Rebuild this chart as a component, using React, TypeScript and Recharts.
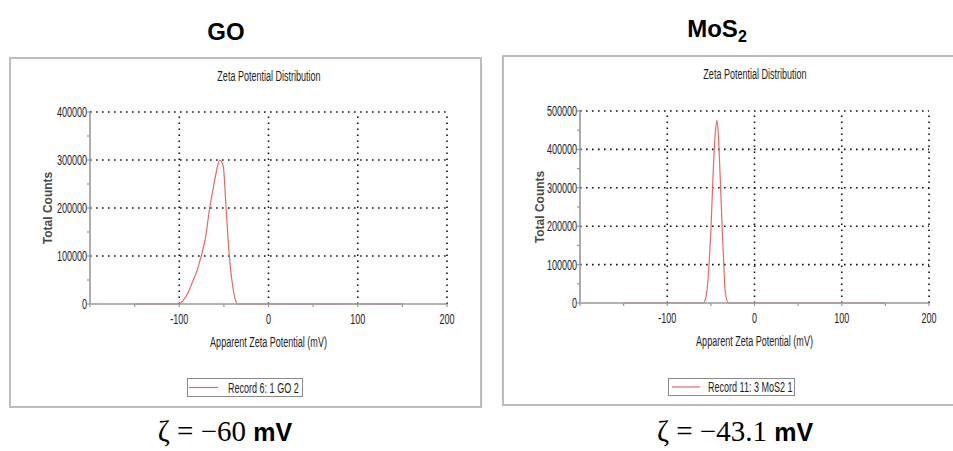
import React from 'react'
import { LineChart, Line, XAxis, YAxis, ReferenceLine, Legend } from 'recharts'

// shared x axis
const xTicks = [-200, -150, -100, -50, 0, 50, 100, 150, 200]
const xLabeled = [-100, 0, 100, 200]
const xGrid = [-100, 0, 100, 200]

// GO record
const goX = [-150, -100, -95, -90, -85, -80, -75.6, -70, -66, -62, -58.8, -56.5, -54.3, -52.5, -50.6, -47.5, -43.8, -40, -37, -34.5, -30, 0, 50, 100, 150]
const goCounts = [0, 0, 9000, 24000, 46500, 70000, 98500, 145000, 199000, 240000, 272000, 292000, 300000, 296000, 286000, 199000, 98500, 36000, 8000, 0, 0, 0, 0, 0, 0]
const goYTicks = [0, 50000, 100000, 150000, 200000, 250000, 300000, 350000, 400000]
const goYGrid = [100000, 200000, 300000, 400000]

// MoS2 record
const mosX = [-150, -100, -58.6, -56, -54, -52, -50.1, -47.1, -45, -43.2, -41.5, -39.8, -36.8, -35, -33.7, -29.9, 0, 50, 100, 150]
const mosCounts = [0, 0, 0, 12000, 43000, 105000, 182000, 355000, 440000, 476000, 440000, 355000, 182000, 90000, 33000, 0, 0, 0, 0, 0]
const mosYTicks = [0, 50000, 100000, 150000, 200000, 250000, 300000, 350000, 400000, 450000, 500000]
const mosYGrid = [100000, 200000, 300000, 400000, 500000]

const axisGray = '#999999'
const textCol = '#1e1e1e'
const lineRed = '#e86868'
const font = '"Liberation Sans", Arial, sans-serif'
// the instrument screenshot is squeezed horizontally
const SQ = 0.645

const SqText = ({ x, y, anchor = 'start', dy = 5, size = 14, children }: any) => (
  <text transform={`translate(${x} ${y}) scale(${SQ} 1)`} x={0} y={0} dy={dy} textAnchor={anchor}
    fontSize={size} fontFamily={font} fill={textCol}>{children}</text>
)

const YTick = ({ x, y, payload }: any) => {
  const v = payload.value
  if (v % 100000 !== 0) return <g />
  return <SqText x={x} y={y} anchor="end">{String(v)}</SqText>
}

const XTick = ({ x, y, payload }: any) => {
  const v = payload.value
  if (!xLabeled.includes(v)) return <g />
  return <SqText x={x} y={y} anchor="middle" dy={15.5}>{String(v)}</SqText>
}

interface PanelProps {
  xs: number[]
  counts: number[]
  yTicks: number[]
  yGrid: number[]
  name: string
  left: number
  top: number
  width: number
  height: number
  yAxisWidth: number
  marginTop: number
  marginRight: number
  yLabelX: number
  legend: { left: number; top: number; w: number; h: number; l1: number; l2: number; tx: number }
}

function Panel(p: PanelProps) {
  const data = p.xs.map((x, i) => ({ x, count: p.counts[i] }))
  const xAxisHeight = p.height - p.marginTop - 192
  const plotW = p.width - p.yAxisWidth - p.marginRight
  const lg = p.legend
  return (
    <>
      <div style={{ position: 'absolute', left: p.left, top: p.top, width: p.width, height: p.height, border: '2px solid #bcbcbc', boxSizing: 'border-box' }} />
      <svg style={{ position: 'absolute', left: p.left + p.yAxisWidth + plotW / 2 - 100, top: p.top + 10 }} width={200} height={20}>
        <SqText x={100} y={9} anchor="middle">Zeta Potential Distribution</SqText>
      </svg>
      <div style={{ position: 'absolute', left: p.left, top: p.top, fontFamily: font }}>
        <LineChart width={p.width} height={p.height} data={data}
          margin={{ top: p.marginTop, right: p.marginRight, left: 0, bottom: 0 }}>
          {xGrid.map((v) => (
            <ReferenceLine key={'x' + v} x={v} stroke="#111" strokeWidth={1.6} strokeDasharray="1.6 4.4" />
          ))}
          {p.yGrid.map((v) => (
            <ReferenceLine key={'y' + v} y={v} stroke="#111" strokeWidth={1.6} strokeDasharray="1.6 4.4" />
          ))}
          <XAxis dataKey="x" type="number" domain={[-200, 200]} ticks={xTicks} interval={0}
            height={xAxisHeight} axisLine={{ stroke: axisGray, strokeWidth: 1.6 }}
            tickLine={{ stroke: axisGray, strokeWidth: 1.2 }} tickSize={3} tickMargin={2} tick={<XTick />}
            label={{
              content: ({ viewBox }: any) => (
                <SqText x={viewBox.x + viewBox.width / 2} y={viewBox.y + 37.5} anchor="middle">
                  Apparent Zeta Potential (mV)
                </SqText>
              ),
            }} />
          <YAxis type="number" domain={[0, p.yTicks[p.yTicks.length - 1]]} ticks={p.yTicks} interval={0}
            width={p.yAxisWidth} axisLine={{ stroke: axisGray, strokeWidth: 1.6 }}
            tickLine={{ stroke: axisGray, strokeWidth: 1.2 }} tickSize={3} tickMargin={0} tick={<YTick />}
            label={{
              content: ({ viewBox }: any) => {
                const cx = viewBox.x + p.yLabelX
                const cy = viewBox.y + viewBox.height / 2
                return (
                  <text transform={`translate(${cx} ${cy}) rotate(-90)`} x={0} y={0} dy={4.5}
                    textAnchor="middle" fontSize={12} fontWeight="bold" fontFamily={font} fill="#4a4a4a">Total Counts</text>
                )
              },
            }} />
          <Line type="monotone" dataKey="count" name={p.name} stroke={lineRed} strokeWidth={1.2}
            dot={false} isAnimationActive={false} />
          <Legend layout="horizontal" verticalAlign="middle" align="center"
            wrapperStyle={{ left: lg.left, top: lg.top, width: lg.w, height: lg.h }}
            content={() => (
              <svg width={lg.w} height={lg.h}>
                <rect x={0.5} y={0.5} width={lg.w - 1} height={lg.h - 1} fill="#fff" stroke="#8a8a8a" />
                <line x1={lg.l1} x2={lg.l2} y1={lg.h / 2} y2={lg.h / 2} stroke={lineRed} strokeWidth={1.2} />
                <SqText x={lg.tx} y={lg.h / 2}>{p.name}</SqText>
              </svg>
            )} />
        </LineChart>
      </div>
    </>
  )
}

export default function App() {
  return (
    <div style={{ position: 'absolute', left: 0, top: 0, width: 953, height: 451, overflow: 'hidden', background: '#fff' }}>
      <div style={{ position: 'absolute', left: 126, width: 200, top: 19.5, textAlign: 'center', fontFamily: font, fontWeight: 'bold', fontSize: 24, lineHeight: '24px' }}>
        GO
      </div>
      <div style={{ position: 'absolute', left: 617, width: 200, top: 16.5, textAlign: 'center', fontFamily: font, fontWeight: 'bold', fontSize: 24, lineHeight: '24px' }}>
        MoS<span style={{ fontSize: 16, position: 'relative', top: 5 }}>2</span>
      </div>

      <Panel xs={goX} counts={goCounts} yTicks={goYTicks} yGrid={goYGrid} name="Record 6: 1 GO 2"
        left={9} top={57} width={473} height={351} yAxisWidth={81} marginTop={55} marginRight={35}
        yLabelX={38.5}
        legend={{ left: 178, top: 321, w: 116, h: 19, l1: 2, l2: 31, tx: 41 }} />

      <Panel xs={mosX} counts={mosCounts} yTicks={mosYTicks} yGrid={mosYGrid} name="Record 11: 3 MoS2 1"
        left={502} top={55} width={460} height={351} yAxisWidth={78} marginTop={56} marginRight={33}
        yLabelX={37}
        legend={{ left: 166, top: 323, w: 127, h: 18, l1: 4, l2: 32, tx: 40 }} />

      <div style={{ position: 'absolute', left: 75, width: 300, top: 415, textAlign: 'center', lineHeight: '32px', whiteSpace: 'nowrap' }}>
        <span style={{ fontFamily: '"Liberation Serif", serif', fontSize: 29 }}>ζ = −60 </span>
        <span style={{ fontFamily: font, fontWeight: 'bold', fontSize: 25 }}>mV</span>
      </div>
      <div style={{ position: 'absolute', left: 585, width: 300, top: 415, textAlign: 'center', lineHeight: '32px', whiteSpace: 'nowrap' }}>
        <span style={{ fontFamily: '"Liberation Serif", serif', fontSize: 29 }}>ζ = −43.1 </span>
        <span style={{ fontFamily: font, fontWeight: 'bold', fontSize: 25 }}>mV</span>
      </div>
    </div>
  )
}
